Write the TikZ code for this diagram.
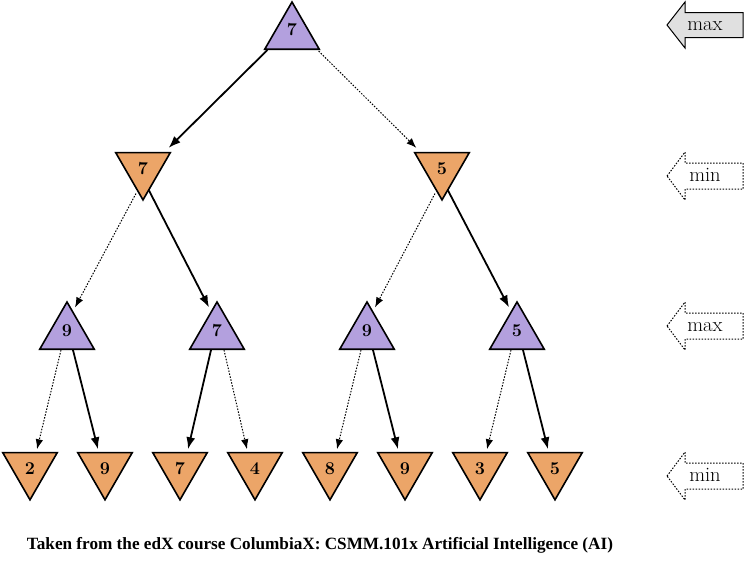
\documentclass[tikz,border=0pt]{standalone}
\usepackage{fontspec}
\newfontfamily\capfont{Liberation Serif}
\usetikzlibrary{shapes.geometric,arrows.meta,calc}
\definecolor{maxfill}{RGB}{179,160,222}
\definecolor{minfill}{RGB}{236,165,104}
\definecolor{grayfill}{RGB}{224,224,224}
\begin{document}
\begin{tikzpicture}[x=1pt,y=-1pt,
 tri/.style={regular polygon, regular polygon sides=3, minimum size=63pt, inner sep=0pt, draw, line width=1.6pt, line join=miter},
 maxn/.style={tri, fill=maxfill},
 minn/.style={tri, shape border rotate=180, fill=minfill},
 num/.style={font=\fontsize{18}{20}\selectfont\bfseries, inner sep=0pt},
 best/.style={line width=1.8pt, -{Latex[length=12pt,width=9pt]}},
 other/.style={line width=1pt, dash pattern=on 1.5pt off 1.5pt, -{Latex[length=10pt,width=7.5pt]}},
 lvl/.style={line width=1pt, line join=miter},
 lvldot/.style={lvl, dash pattern=on 1.5pt off 1.5pt},
 lvltext/.style={font=\fontsize{20.5}{22}\selectfont, anchor=base, inner sep=0pt},
 ]
\useasboundingbox (0,0) rectangle (745,568);

% tree nodes
\node[maxn, label={[num,yshift=4pt]center:7}] (root) at (292,33.5) {};
\node[minn, label={[num]center:7}] (a) at (143,168.4) {};
\node[minn, label={[num]center:5}] (b) at (442,168.4) {};
\node[maxn, label={[num,yshift=2.5pt]center:9}] (a1) at (67,333.5) {};
\node[maxn, label={[num,yshift=2.5pt]center:7}] (a2) at (217,333.5) {};
\node[maxn, label={[num,yshift=2.5pt]center:9}] (b1) at (367,333.5) {};
\node[maxn, label={[num,yshift=2.5pt]center:5}] (b2) at (517,333.5) {};
\node[minn, label={[num]center:2}] (l1) at (30,468.3) {};
\node[minn, label={[num]center:9}] (l2) at (105,468.3) {};
\node[minn, label={[num]center:7}] (l3) at (180,468.3) {};
\node[minn, label={[num]center:4}] (l4) at (255,468.3) {};
\node[minn, label={[num]center:8}] (l5) at (330,468.3) {};
\node[minn, label={[num]center:9}] (l6) at (405,468.3) {};
\node[minn, label={[num]center:3}] (l7) at (480,468.3) {};
\node[minn, label={[num]center:5}] (l8) at (555,468.3) {};

% connectors: level 0 -> 1
\draw[best] ($(root.corner 2)+(4,0)$) -- ($(a.corner 2)+(-3,-4)$);
\draw[other] ($(root.corner 3)+(-2,1)$) -- ($(b.corner 3)+(3,-4)$);
% level 1 -> 2
\draw[other] ($(a.corner 1)+(-7,-8)$) -- ($(a1.corner 1)+(8,7)$);
\draw[best] ($(a.corner 1)+(6,-11)$) -- ($(a2.corner 1)+(-8,7)$);
\draw[other] ($(b.corner 1)+(-7,-8)$) -- ($(b1.corner 1)+(8,7)$);
\draw[best] ($(b.corner 1)+(6,-11)$) -- ($(b2.corner 1)+(-8,7)$);
% level 2 -> 3
\draw[other] ($(a1.south)+(-6,0)$) -- ($(l1.north)+(7,-2.5)$);
\draw[best] ($(a1.south)+(6,0)$) -- ($(l2.north)+(-7,-2.5)$);
\draw[best] ($(a2.south)+(-6,0)$) -- ($(l3.north)+(8,-2.5)$);
\draw[other] ($(a2.south)+(7,0)$) -- ($(l4.north)+(-8,-2.5)$);
\draw[other] ($(b1.south)+(-6,0)$) -- ($(l5.north)+(7,-2.5)$);
\draw[best] ($(b1.south)+(6,0)$) -- ($(l6.north)+(-7,-2.5)$);
\draw[other] ($(b2.south)+(-6,0)$) -- ($(l7.north)+(7,-2.5)$);
\draw[best] ($(b2.south)+(6,0)$) -- ($(l8.north)+(-7,-2.5)$);

% level indicators
\draw[lvl, fill=grayfill, shift={(705,25)}]
  (-38,0) -- (-20,-23) -- (-20,-12.5) -- (38,-12.5) -- (38,12.5) -- (-20,12.5) -- (-20,23) -- cycle;
\node[lvltext] (t1) at (705,30.5) {max};
\draw[lvldot, shift={(705,176)}]
  (-38,0) -- (-20,-24) -- (-20,-13) -- (38,-13) -- (38,13) -- (-20,13) -- (-20,24) -- cycle;
\node[lvltext] (t2) at (705,181) {min};
\draw[lvldot, shift={(705,326)}]
  (-38,0) -- (-20,-24) -- (-20,-13) -- (38,-13) -- (38,13) -- (-20,13) -- (-20,24) -- cycle;
\node[lvltext] (t3) at (705,331) {max};
\draw[lvldot, shift={(705,476)}]
  (-38,0) -- (-20,-24) -- (-20,-13) -- (38,-13) -- (38,13) -- (-20,13) -- (-20,24) -- cycle;
\node[lvltext] (t4) at (705,481) {min};

% caption
\node[inner sep=0pt] (cap) at (320,545) {\resizebox{586pt}{!}{\capfont\bfseries Taken from the edX course ColumbiaX: CSMM.101x Artificial Intelligence (AI)}};
\end{tikzpicture}
\end{document}
